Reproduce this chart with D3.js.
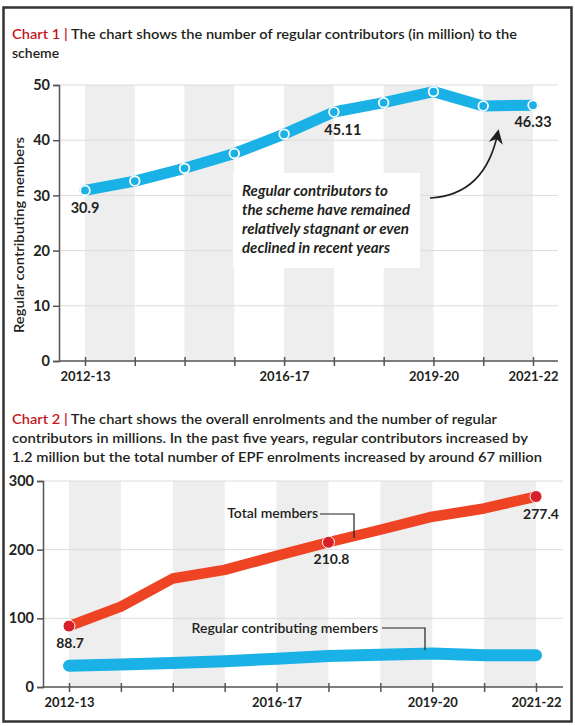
<!DOCTYPE html>
<html>
<head>
<meta charset="utf-8">
<script src="https://cdn.jsdelivr.net/npm/d3@7"></script>
<style>
  html, body { margin: 0; padding: 0; background: #fff; }
  svg { display: block; }
  text { font-family: Lato, "Open Sans", sans-serif; }
</style>
</head>
<body>
<svg id="chart" width="575" height="726"></svg>
<script>
// ---------- DATA ----------
const years = ["2012-13","2013-14","2014-15","2015-16","2016-17","2017-18","2018-19","2019-20","2020-21","2021-22"];
const shownYears = ["2012-13","2016-17","2019-20","2021-22"];
const regularContributors = [30.9, 32.6, 34.9, 37.6, 41.1, 45.11, 46.8, 48.8, 46.2, 46.33];
const totalMembers = [88.7, 117, 158, 170.5, 191, 210.8, 229, 248, 260, 277.4];
const chart1Ticks = [0, 10, 20, 30, 40, 50];
const chart2Ticks = [0, 100, 200, 300];
const chart1Labels = [{i: 0, text: "30.9"}, {i: 5, text: "45.11"}, {i: 9, text: "46.33"}];
const chart2Labels = [{i: 0, text: "88.7"}, {i: 5, text: "210.8"}, {i: 9, text: "277.4"}];
const chart2Dots = [0, 5, 9];
const title1 = ["The chart shows the number of regular contributors (in million) to the", "scheme"];
const title2 = ["The chart shows the overall enrolments and the number of regular",
  "contributors in millions. In the past five years, regular contributors increased by",
  "1.2 million but the total number of EPF enrolments increased by around 67 million"];
const note1 = ["Regular contributors to", "the scheme have remained", "relatively stagnant or even", "declined in recent years"];

// ---------- STYLE ----------
const CYAN = "#1ab1e6", RED = "#ef4423", DOT = "#d7202a", RUBY = "#c4161c";
const INK = "#231f20", GRID = "#dcdcdc", BAND = "#eeeeef", AXIS = "#555";

const svg = d3.select("#chart");

// frame
svg.append("rect").attr("x", 3.5).attr("y", 7.5).attr("width", 568).attr("height", 714)
  .attr("fill", "#fff").attr("stroke", "#333").attr("stroke-width", 2.5);

function title(lines, label, y0, lens) {
  lines.forEach((t, k) => {
    const tx = svg.append("text").attr("x", 12).attr("y", y0 + k * 19)
      .attr("font-size", 14).attr("font-weight", 600).attr("fill", INK);
    if (k === 0) {
      tx.append("tspan").attr("fill", RUBY).text(label + " | ");
    }
    tx.append("tspan").text(t);
    if (lens && lens[k]) tx.attr("textLength", lens[k]).attr("lengthAdjust", "spacingAndGlyphs");
  });
}

function chart(opts) {
  const g = svg.append("g");
  const x = d3.scalePoint().domain(years).range(opts.xr);
  const y = d3.scaleLinear().domain(opts.yd).range(opts.yr);
  // bands
  for (let i = 0; i < years.length - 1; i += 2) {
    g.append("rect").attr("x", x(years[i])).attr("y", opts.yr[1])
      .attr("width", x(years[i + 1]) - x(years[i])).attr("height", opts.yr[0] - opts.yr[1])
      .attr("fill", BAND);
  }
  // grid
  g.selectAll(".grid").data(opts.ticks.filter(d => d > 0)).join("line")
    .attr("x1", opts.axisX).attr("x2", opts.gridEnd)
    .attr("y1", d => y(d)).attr("y2", d => y(d))
    .attr("stroke", GRID).attr("stroke-width", 1);
  return {g, x, y};
}

function axes(c, opts) {
  const {g, x, y} = c;
  // y axis
  const ya = g.append("g").attr("transform", `translate(${opts.axisX},0)`)
    .call(d3.axisLeft(y).tickValues(opts.ticks).tickSize(6).tickPadding(3));
  ya.select(".domain").attr("stroke", AXIS).attr("stroke-width", 1.5);
  ya.selectAll(".tick line").attr("stroke", AXIS).attr("stroke-width", 1.5);
  ya.selectAll(".tick text").attr("font-size", 14.5).attr("font-weight", 700)
    .attr("fill", INK).attr("font-family", "Lato, sans-serif");
  // x axis
  const xa = g.append("g").attr("transform", `translate(0,${opts.yr[0]})`)
    .call(d3.axisBottom(x).tickSizeInner(5).tickSizeOuter(0).tickPadding(opts.xPad)
      .tickFormat(d => shownYears.includes(d) ? d : ""));
  xa.select(".domain").attr("d", `M${opts.axisX},0H${opts.gridEnd}`).attr("stroke", AXIS).attr("stroke-width", 1.5);
  xa.selectAll(".tick line").attr("y1", -4).attr("stroke", AXIS).attr("stroke-width", 1.5);
  xa.selectAll(".tick text").attr("font-size", 13).attr("font-weight", 700)
    .attr("fill", INK).attr("font-family", "Lato, sans-serif");
}

// ================= CHART 1 =================
title(title1, "Chart 1", 39, [505, null]);
const o1 = {xr: [85, 533], yd: [0, 50], yr: [361, 85], ticks: chart1Ticks, axisX: 59, gridEnd: 558, xPad: 6};
const c1 = chart(o1);
// annotation box
c1.g.append("rect").attr("x", 233).attr("y", 173).attr("width", 187).attr("height", 95).attr("fill", "#fff");
axes(c1, o1);
// y title
svg.append("text").attr("transform", "translate(24,235) rotate(-90)").attr("text-anchor", "middle")
  .attr("font-size", 14).attr("font-weight", 600).attr("fill", INK)
  .attr("textLength", 196).attr("lengthAdjust", "spacingAndGlyphs").text("Regular contributing members");

const line1 = d3.line().x((d, i) => c1.x(years[i])).y(d => c1.y(d));
c1.g.append("path").datum(regularContributors).attr("d", line1)
  .attr("fill", "none").attr("stroke", CYAN).attr("stroke-width", 11)
  .attr("stroke-linejoin", "round").attr("stroke-linecap", "round");
c1.g.selectAll(".pt").data(regularContributors).join("circle")
  .attr("cx", (d, i) => c1.x(years[i])).attr("cy", d => c1.y(d)).attr("r", 4.8)
  .attr("fill", CYAN).attr("stroke", "#fff").attr("stroke-width", 1.8);
c1.g.selectAll(".vl").data(chart1Labels).join("text")
  .attr("x", d => c1.x(years[d.i]) + (d.i === 5 ? 9 : 0))
  .attr("y", d => c1.y(regularContributors[d.i]) + (d.i === 9 ? 22 : 23))
  .attr("text-anchor", "middle").attr("font-size", 14.5).attr("font-weight", 700).attr("fill", INK)
  .text(d => d.text);
// annotation text
const noteLens = [146, 168, 167, 148];
note1.forEach((t, k) => {
  svg.append("text").attr("x", 242).attr("y", 196 + k * 19)
    .attr("font-size", 14.5).attr("font-style", "italic").attr("font-weight", 700).attr("fill", INK)
    .attr("textLength", noteLens[k]).attr("lengthAdjust", "spacingAndGlyphs").text(t);
});
// arrow
const defs = svg.append("defs");
defs.append("marker").attr("id", "ah").attr("viewBox", "0 0 10 10").attr("refX", 8).attr("refY", 5)
  .attr("markerWidth", 9).attr("markerHeight", 9).attr("orient", "auto-start-reverse")
  .append("path").attr("d", "M0,0 L10,5 L0,10 L3,5 Z").attr("fill", INK);
svg.append("path").attr("d", "M430,198 C468,196 490,172 498,132")
  .attr("fill", "none").attr("stroke", INK).attr("stroke-width", 1.6).attr("marker-end", "url(#ah)");

// ================= CHART 2 =================
title(title2, "Chart 2", 424, [485, 516, 530]);
const o2 = {xr: [69, 536], yd: [0, 300], yr: [687, 481], ticks: chart2Ticks, axisX: 43, gridEnd: 563, xPad: 6};
const c2 = chart(o2);
axes(c2, o2);

const line2 = (arr) => d3.line().x((d, i) => c2.x(years[i])).y(d => c2.y(d))(arr);
c2.g.append("path").attr("d", line2(regularContributors))
  .attr("fill", "none").attr("stroke", CYAN).attr("stroke-width", 12)
  .attr("stroke-linejoin", "round").attr("stroke-linecap", "round");
c2.g.append("path").attr("d", line2(totalMembers))
  .attr("fill", "none").attr("stroke", RED).attr("stroke-width", 10.5)
  .attr("stroke-linejoin", "round").attr("stroke-linecap", "round");
c2.g.selectAll(".dot").data(chart2Dots).join("circle")
  .attr("cx", i => c2.x(years[i])).attr("cy", i => c2.y(totalMembers[i])).attr("r", 6)
  .attr("fill", DOT).attr("stroke", "#fff").attr("stroke-width", 1);
c2.g.selectAll(".vl").data(chart2Labels).join("text")
  .attr("x", d => c2.x(years[d.i]) + (d.i === 9 ? 5 : d.i === 5 ? 3 : 1))
  .attr("y", d => c2.y(totalMembers[d.i]) + 22)
  .attr("text-anchor", "middle").attr("font-size", 14).attr("font-weight", 700).attr("fill", INK)
  .text(d => d.text);

// series labels with leaders
svg.append("text").attr("x", 318).attr("y", 518).attr("text-anchor", "end")
  .attr("font-size", 14).attr("font-weight", 600).attr("fill", INK).text("Total members");
svg.append("path").attr("d", "M320,514 H354 V538").attr("fill", "none").attr("stroke", INK).attr("stroke-width", 1.2);
svg.append("text").attr("x", 378).attr("y", 633).attr("text-anchor", "end")
  .attr("font-size", 14).attr("font-weight", 600).attr("fill", INK).text("Regular contributing members");
svg.append("path").attr("d", "M382,628 H425 V650").attr("fill", "none").attr("stroke", INK).attr("stroke-width", 1.2);
</script>
</body>
</html>
